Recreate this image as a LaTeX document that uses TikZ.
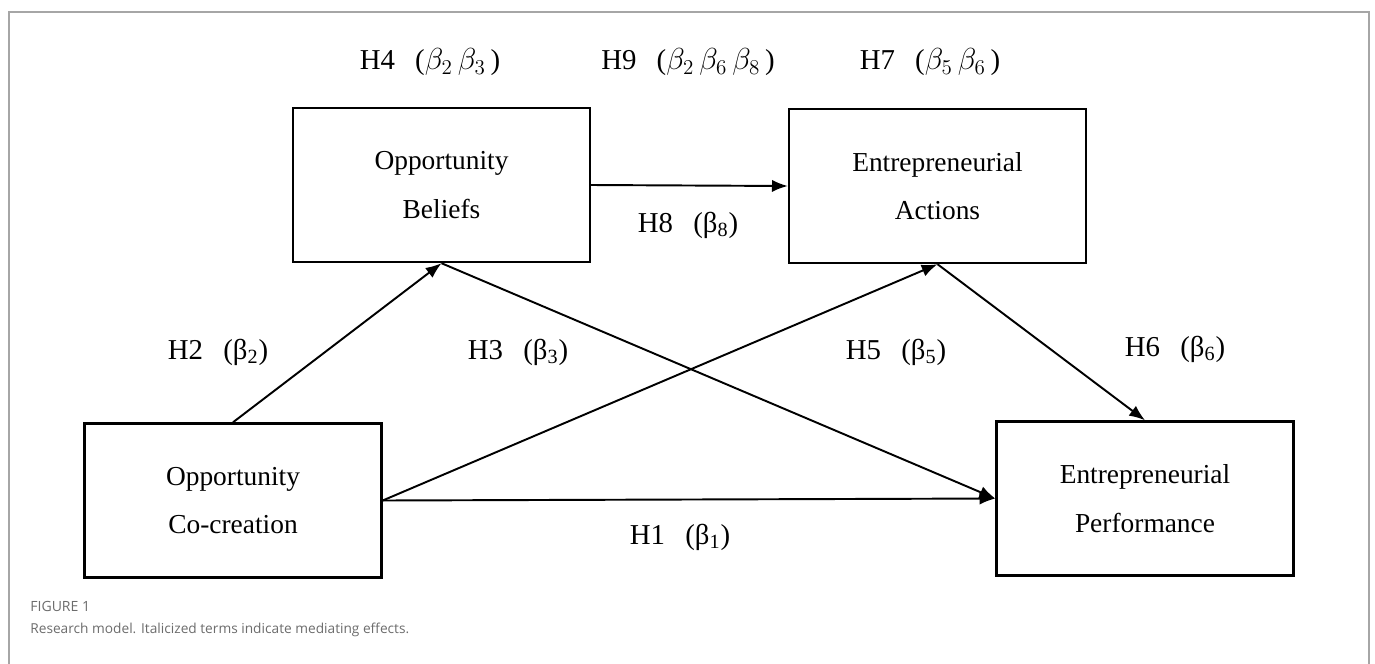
\documentclass[tikz,border=0pt]{standalone}
\usepackage{fontspec}
\setmainfont{Liberation Serif}
\newfontfamily\capfont{Open Sans}
\usetikzlibrary{arrows.meta}
\tikzset{
  varbox/.style={draw,line width=1.4pt,minimum width=5.94cm,minimum height=3.08cm,
    align=center,font=\fontsize{15.6}{27.5}\selectfont},
  hyp/.style={font=\fontsize{16.4}{19}\selectfont,inner sep=0pt},
  path/.style={line width=1.1pt,-{Latex[length=9pt,width=7pt]}}
}
\newcommand{\hb}[1]{β\textsubscript{#1}}
\begin{document}
\begin{tikzpicture}[x=0.02cm,y=-0.02cm]
\useasboundingbox (0,0) rectangle (1375,663);
\draw[gray!70,line width=1.2pt] (9,670)--(9,12)--(1369,12)--(1369,670);
% constructs
\node[varbox] (beliefs) at (441.5,185) {Opportunity\\Beliefs};
\node[varbox] (actions) at (937.5,186) {Entrepreneurial\\Actions};
\node[varbox] (cocreation) at (233,500.5) {Opportunity\\Co-creation};
\node[varbox] (perf) at (1145,498.5) {Entrepreneurial\\Performance};
% paths
\draw[path] (beliefs.east) -- (actions.west);
\draw[path] (cocreation.north) -- (beliefs.south);
\draw[path] (beliefs.south) -- (perf.west);
\draw[path] (cocreation.east) -- (actions.south);
\draw[path] (actions.south) -- (perf.north);
\draw[path] (cocreation.east) -- (perf.west);
% hypotheses
\node[hyp] (h4) at (430,62) {H4\hspace{0.7em}($\beta_2\,\beta_3$\,)};
\node[hyp] (h9) at (688,62) {H9\hspace{0.7em}($\beta_2\,\beta_6\,\beta_8$\,)};
\node[hyp] (h7) at (930,62) {H7\hspace{0.7em}($\beta_5\,\beta_6$\,)};
\node[hyp] (h8) at (688,225) {H8\hspace{0.7em}(\hb{8})};
\node[hyp] (h2) at (218,352) {H2\hspace{0.7em}(\hb{2})};
\node[hyp] (h3) at (518,352) {H3\hspace{0.7em}(\hb{3})};
\node[hyp] (h5) at (896,352) {H5\hspace{0.7em}(\hb{5})};
\node[hyp] (h6) at (1175,349) {H6\hspace{0.7em}(\hb{6})};
\node[hyp] (h1) at (680,537) {H1\hspace{0.7em}(\hb{1})};
% caption
\node[anchor=west,inner sep=0pt,text=gray!85!black,font=\capfont\fontsize{8}{9}\selectfont] (fig) at (30,606) {FIGURE 1};
\node[anchor=west,inner sep=0pt,text=gray!85!black,font=\capfont\fontsize{7.8}{9}\selectfont] (cap) at (30,630) {Research model. Italicized terms indicate mediating effects.};
\end{tikzpicture}
\end{document}
